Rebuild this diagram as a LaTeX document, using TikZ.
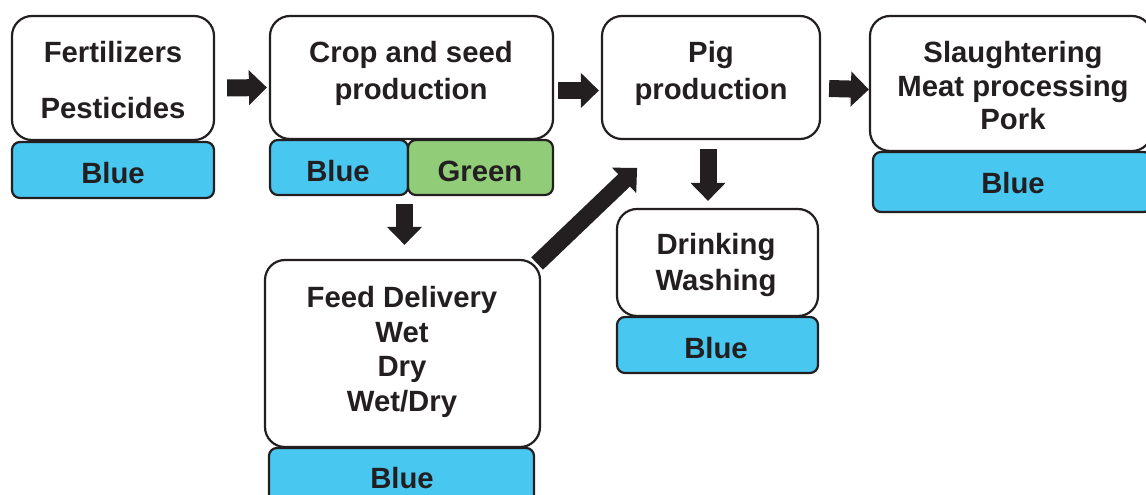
\documentclass[tikz,border=0pt]{standalone}
\usepackage{fontspec}
\setmainfont{Liberation Sans}
\usetikzlibrary{arrows.meta}
\definecolor{ink}{HTML}{231F20}
\definecolor{skyb}{HTML}{48C7F1}
\definecolor{leaf}{HTML}{91CD79}
\begin{document}
\begin{tikzpicture}[x=1pt,y=-1pt,
  bigbox/.style={draw=ink,line width=2.2pt,rounded corners=20pt,fill=white,inner sep=0pt},
  tagbox/.style={draw=ink,line width=2.2pt,rounded corners=8pt,inner sep=0pt},
  txt/.style={font=\fontsize{29.3}{34.5}\selectfont\bfseries,text=ink,align=center,inner sep=0pt},
  blk/.style={draw=ink,line width=17pt,-{Triangle[length=18pt,width=34pt]}}]
\useasboundingbox (0,0) rectangle (1146,495);
% boxes
\node[bigbox,minimum width=202pt,minimum height=124pt] (fert) at (113,78) {};
\node[tagbox,fill=skyb,minimum width=202pt,minimum height=56pt] (fertb) at (113,170) {};
\node[bigbox,minimum width=283pt,minimum height=123pt] (crop) at (411.5,77.5) {};
\node[tagbox,fill=skyb,minimum width=138pt,minimum height=55pt] (cropb) at (339,167.5) {};
\node[tagbox,fill=leaf,minimum width=145pt,minimum height=55pt] (cropg) at (480.5,167.5) {};
\node[bigbox,minimum width=218pt,minimum height=123pt] (pig) at (711,77.5) {};
\node[bigbox,minimum width=282pt,minimum height=135pt] (slau) at (1011,83.5) {};
\node[tagbox,fill=skyb,minimum width=279pt,minimum height=60pt] (slaub) at (1012.5,182) {};
\node[bigbox,minimum width=201pt,minimum height=107pt] (drink) at (717.5,262.5) {};
\node[tagbox,fill=skyb,minimum width=201pt,minimum height=56pt] (drinkb) at (717.5,345) {};
\node[bigbox,minimum width=275pt,minimum height=187pt] (feed) at (402.5,353.5) {};
\node[tagbox,fill=skyb,minimum width=265pt,minimum height=58pt] (feedb) at (401.5,477) {};
% texts
\node[txt] (t1) at (113,80) {Fertilizers\\[22pt]Pesticides};
\node[txt] (t1b) at (113,173) {Blue};
\node[txt,font=\fontsize{29.3}{37}\selectfont\bfseries] (t2) at (411,73) {Crop and seed\\production};
\node[txt] (t2b) at (338,171) {Blue};
\node[txt] (t2g) at (480,171) {Green};
\node[txt,font=\fontsize{29.3}{37}\selectfont\bfseries] (t3) at (711,73) {Pig\\production};
\node[txt,font=\fontsize{29.3}{33.5}\selectfont\bfseries] (t4) at (1013,86) {Slaughtering\\Meat processing\\Pork};
\node[txt] (t4b) at (1013,183) {Blue};
\node[txt,font=\fontsize{29.3}{36}\selectfont\bfseries] (t5) at (716,265) {Drinking\\Washing};
\node[txt] (t5b) at (716,348) {Blue};
\node[txt] (t6) at (402,352) {Feed Delivery\\Wet\\Dry\\Wet/Dry};
\node[txt] (t6b) at (402,478) {Blue};
% arrows
\draw[blk] ([shift={(12,10)}]fert.east) -- ([shift={(-2,10)}]crop.west);
\draw[blk] ([shift={(4,13)}]crop.east) -- ([shift={(-2,13)}]pig.west);
\draw[blk] ([shift={(8,11)}]pig.east) -- ([shift={(0,6)}]slau.west);
\draw[blk] ([shift={(-7,8)}]crop.south |- cropb.south) -- ([shift={(-7,-14)}]crop.south |- feed.north);
\draw[blk] ([shift={(-3,9)}]pig.south) -- ([shift={(-3,-7)}]pig.south |- drink.north);
\draw[blk] ([shift={(-4,-90)}]feed.east) -- ([shift={(-182,-40)}]drink.north east);
\end{tikzpicture}
\end{document}
